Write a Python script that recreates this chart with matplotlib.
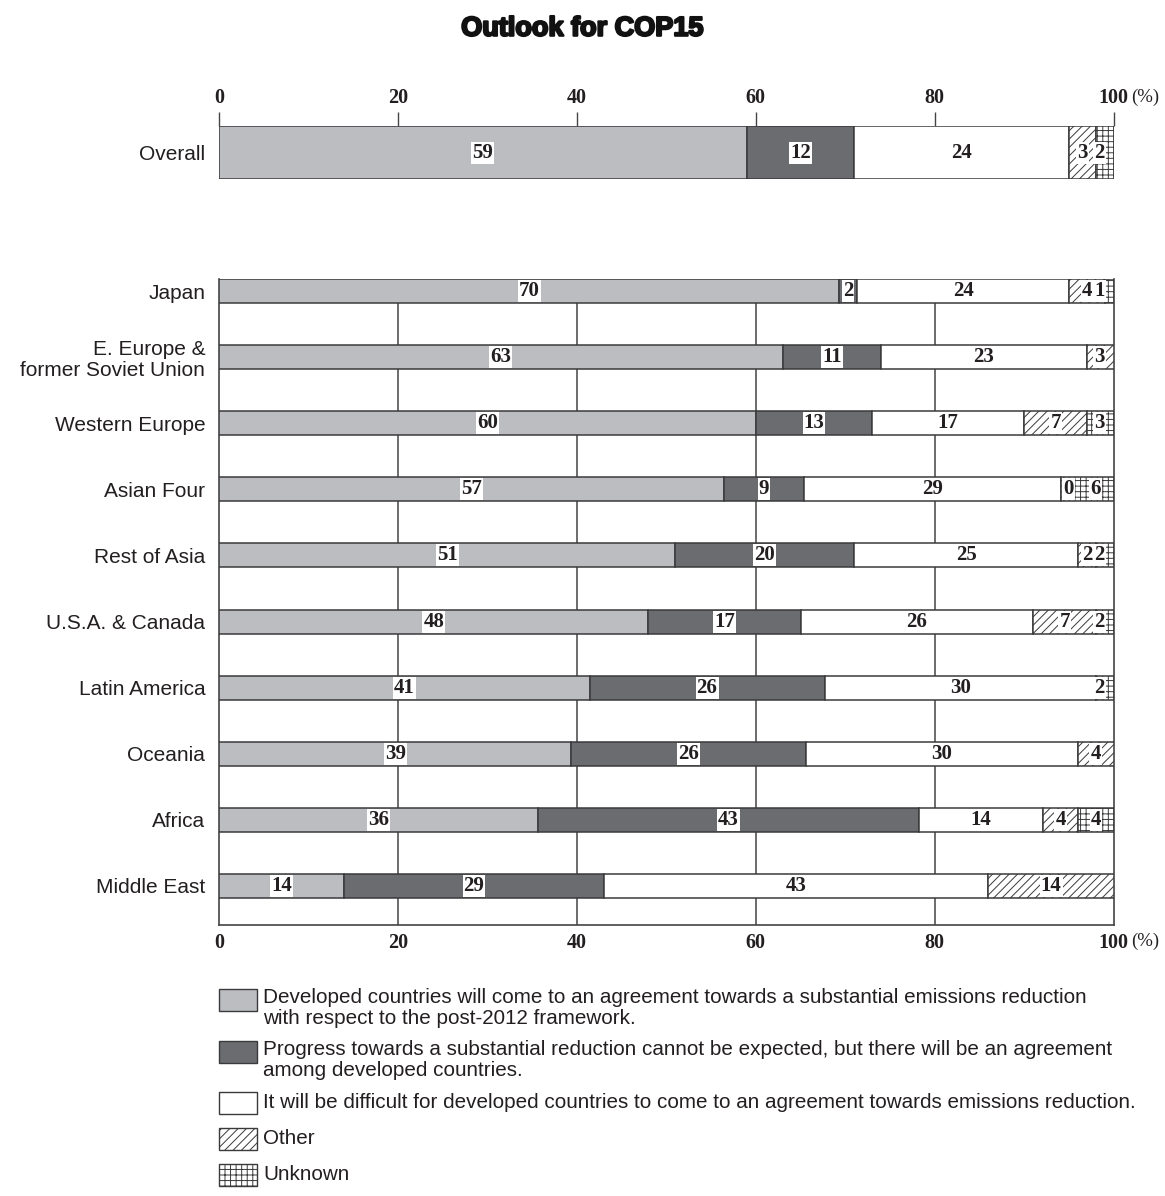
import numpy as np
import matplotlib.pyplot as plt
import matplotlib.patheffects as pe
from matplotlib.patches import Rectangle

plt.rcParams['hatch.linewidth'] = 0.7

# categories and shares (%)
overall_name = ["Overall"]
regions = ["Japan", "E. Europe &\nformer Soviet Union", "Western Europe", "Asian Four",
           "Rest of Asia", "U.S.A. & Canada", "Latin America", "Oceania", "Africa", "Middle East"]

# first entry is the overall figure, the rest follow `regions`
developed = [59, 70, 63, 60, 57, 51, 48, 41, 39, 36, 14]
progress = [12, 2, 11, 13, 9, 20, 17, 26, 26, 43, 29]
difficult = [24, 24, 23, 17, 29, 25, 26, 30, 30, 14, 43]
other = [3, 4, 3, 7, 0, 2, 7, None, 4, 4, 14]      # None = not reported
unknown = [2, 1, None, 3, 6, 2, 2, 2, None, 4, None]

ticks = [0, 20, 40, 60, 80, 100]

legend_texts = [
    "Developed countries will come to an agreement towards a substantial emissions reduction\nwith respect to the post-2012 framework.",
    "Progress towards a substantial reduction cannot be expected, but there will be an agreement\namong developed countries.",
    "It will be difficult for developed countries to come to an agreement towards emissions reduction.",
    "Other",
    "Unknown",
]

LIGHT = "#bcbdc0"
DARK = "#6b6c70"
EDGE = "#3a3a3c"
TXT = "#231f20"
styles = [
    dict(color=LIGHT, hatch=None),
    dict(color=DARK, hatch=None),
    dict(color="white", hatch=None),
    dict(color="white", hatch="////"),
    dict(color="white", hatch="+++"),
]
serif = "Liberation Serif"
sans = "Liberation Sans"


def draw_rows(ax, series, rows, height):
    for r, y in enumerate(rows):
        vals = [s[r] for s in series]
        nums = [v if v is not None else 0 for v in vals]
        total = sum(nums)
        left = 0.0
        zero_spot = None
        for k, (v, w) in enumerate(zip(vals, nums)):
            width = w * 100.0 / total
            st = styles[k]
            if width > 0:
                ax.barh(y, width, left=left, height=height, color=st["color"],
                        hatch=st["hatch"], edgecolor=EDGE, linewidth=1.1, zorder=3)
            if v is not None:
                if w == 0:
                    xc = left + 0.9
                    zero_spot = left + 1.9
                elif zero_spot is not None:
                    xc = (zero_spot + left + width) / 2
                    zero_spot = None
                else:
                    xc = left + width / 2
                # keep the last narrow labels off the right frame
                xc = min(xc, 98.4)
                ax.text(xc, y, str(v), ha="center", va="center", family=serif,
                        fontweight="bold", fontsize=15, color=TXT, zorder=5,
                        bbox=dict(boxstyle="square,pad=0.05", fc="white", ec="none"))
            left += width


all_series = [developed, progress, difficult, other, unknown]

fig = plt.figure(figsize=(11.65, 11.96), dpi=100)

# Overall bar on its own strip with the top scale
ax0 = fig.add_axes([0.188, 0.8503, 0.768, 0.0443])
draw_rows(ax0, [s[:1] for s in all_series], [0], 1.0)
ax0.set_xlim(0, 100)
ax0.set_ylim(0.5, -0.5)
for s in ax0.spines.values():
    s.set_visible(False)
ax0.xaxis.tick_top()
ax0.set_xticks(ticks)
ax0.set_xticklabels([str(t) for t in ticks], family=serif, fontweight="bold", fontsize=14.5, color=TXT)
ax0.tick_params(axis="x", length=10, width=1, color="#444", pad=3)
ax0.set_yticks([0])
ax0.set_yticklabels(overall_name, family=sans, fontsize=15, color=TXT)
ax0.tick_params(axis="y", length=0, pad=10)
ax0.annotate("(%)", xy=(100, 1.0), xycoords=("data", "axes fraction"), xytext=(12.5, 21),
             textcoords="offset points", ha="left", va="center", family=serif,
             fontsize=13.5, color=TXT, annotation_clip=False)

# Regional bars
ax = fig.add_axes([0.188, 0.2266, 0.768, 0.5401])
ys = np.arange(len(regions))
draw_rows(ax, [s[1:] for s in all_series], ys, 0.363)
ax.set_xlim(0, 100)
ax.set_ylim(9.59, -0.1815)
ax.spines["top"].set_visible(False)
for side in ["left", "right", "bottom"]:
    ax.spines[side].set_color("#444")
    ax.spines[side].set_linewidth(1.2)
for t in ticks[1:-1]:
    ax.axvline(t, color="#444", linewidth=1.1, zorder=1)
ax.set_xticks(ticks)
ax.set_xticklabels([str(t) for t in ticks], family=serif, fontweight="bold", fontsize=14.5, color=TXT)
ax.tick_params(axis="x", length=0, pad=6)
ax.set_yticks(ys)
ax.set_yticklabels(regions, family=sans, fontsize=15, color=TXT, linespacing=1.15)
ax.tick_params(axis="y", length=0, pad=10)
ax.annotate("(%)", xy=(100, 0), xycoords=("data", "axes fraction"), xytext=(12.5, -12),
            textcoords="offset points", ha="left", va="center", family=serif,
            fontsize=13.5, color=TXT, annotation_clip=False)

# heavy title: bold face thickened with a stroke
fig.text(0.5, 0.976, "Outlook for COP15", ha="center", va="center", family=sans,
         fontweight="bold", fontsize=19.5, color="#111",
         path_effects=[pe.withStroke(linewidth=1.6, foreground="#111")])

# legend drawn in pixel coordinates
lg = fig.add_axes([0, 0, 1, 1])
lg.set_xlim(0, 1165)
lg.set_ylim(1196, 0)
lg.axis("off")
box_tops = [989, 1041, 1092, 1128, 1164]
for k, (top, label) in enumerate(zip(box_tops, legend_texts)):
    st = styles[k]
    lg.add_patch(Rectangle((219, top), 38, 22, facecolor=st["color"], hatch=st["hatch"],
                           edgecolor=EDGE, linewidth=1.0))
    if "\n" in label:
        lg.text(263, top - 1, label, ha="left", va="top", family=sans, fontsize=14.9,
                color=TXT, linespacing=1.15)
    else:
        lg.text(263, top + 11, label, ha="left", va="center", family=sans, fontsize=14.9,
                color=TXT)

fig.savefig("out.png", dpi=100)
